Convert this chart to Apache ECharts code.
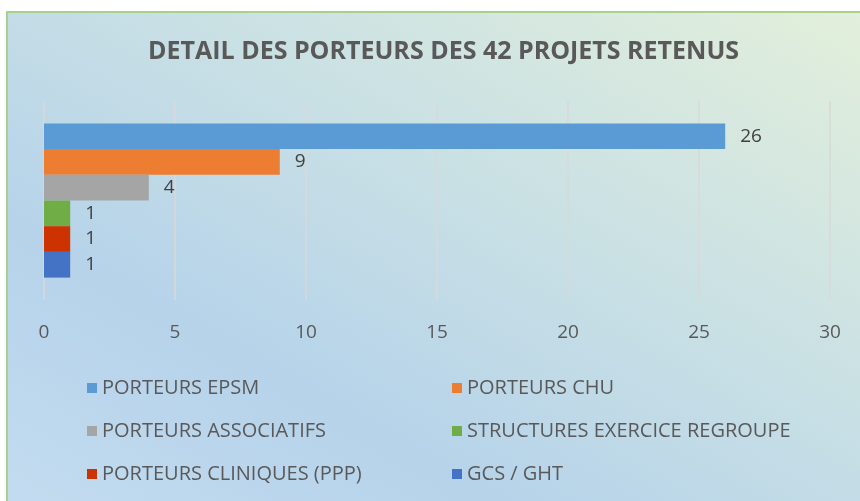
<!DOCTYPE html>
<html>
<head>
<meta charset="utf-8">
<script src="https://cdn.jsdelivr.net/npm/echarts@6/dist/echarts.min.js"></script>
<style>
  html, body { margin: 0; padding: 0; background: #fff; }
  #frame {
    position: absolute; left: 6px; top: 11px; width: 900px; height: 520px;
    border: 2px solid #a9d18e;
    background: linear-gradient(to top right, #c4dcf0 0%, #b6d3ea 30%, #c9e0e4 60%, #e4f0da 100%);
  }
  #chart { position: absolute; left: 0; top: 0; width: 860px; height: 501px; }
</style>
</head>
<body>
<div id="frame"></div>
<div id="chart"></div>
<script>
var seriesNames = ['PORTEURS EPSM', 'PORTEURS CHU', 'PORTEURS ASSOCIATIFS',
    'STRUCTURES EXERCICE REGROUPE', 'PORTEURS CLINIQUES (PPP)', 'GCS / GHT'];
var seriesValues = [26, 9, 4, 1, 1, 1];
var seriesColors = ['#5b9bd5', '#ed7d31', '#a5a5a5', '#70ad47', '#cc3300', '#4472c4'];
var categories = ['Projets'];

var myChart = echarts.init(document.getElementById('chart'));

var legendText = { fontFamily: 'Open Sans', fontSize: 20, color: '#595959' };

var option = {
    backgroundColor: 'transparent',
    title: {
        text: 'DETAIL DES PORTEURS DES 42 PROJETS RETENUS',
        left: 143,
        top: 34,
        textStyle: {
            fontFamily: 'Open Sans',
            fontWeight: 'bold',
            fontSize: 25,
            color: '#595959'
        }
    },
    legend: [
        {
            orient: 'vertical',
            left: 82,
            top: 373,
            itemWidth: 10,
            itemHeight: 10,
            itemGap: 23,
            icon: 'rect',
            data: [seriesNames[0], seriesNames[2], seriesNames[4]],
            textStyle: legendText
        },
        {
            orient: 'vertical',
            left: 447,
            top: 373,
            itemWidth: 10,
            itemHeight: 10,
            itemGap: 23,
            icon: 'rect',
            data: [seriesNames[1], seriesNames[3], seriesNames[5]],
            textStyle: legendText
        }
    ],
    grid: {
        left: 44,
        right: 30,
        top: 101,
        bottom: 201
    },
    xAxis: {
        type: 'value',
        min: 0,
        max: 30,
        interval: 5,
        axisLine: { show: false },
        axisTick: { show: false },
        axisLabel: {
            margin: 23,
            fontFamily: 'Open Sans',
            fontSize: 19,
            color: '#595959'
        },
        splitLine: { lineStyle: { color: '#d9d9d9', width: 1.5 } }
    },
    yAxis: {
        type: 'category',
        data: categories,
        axisLine: { show: false },
        axisTick: { show: false },
        axisLabel: { show: false }
    },
    series: (function () {
        var series = [];
        for (var i = 0; i < seriesNames.length; i++) {
            series.push({
                name: seriesNames[i],
                type: 'bar',
                barWidth: 25.7,
                barGap: '0%',
                itemStyle: { color: seriesColors[i] },
                label: {
                    show: true,
                    position: 'right',
                    distance: 15,
                    fontFamily: 'Open Sans',
                    fontSize: 19,
                    color: '#404040'
                },
                data: [seriesValues[i]]
            });
        }
        return series;
    })()
};
myChart.setOption(option);
</script>
</body>
</html>
